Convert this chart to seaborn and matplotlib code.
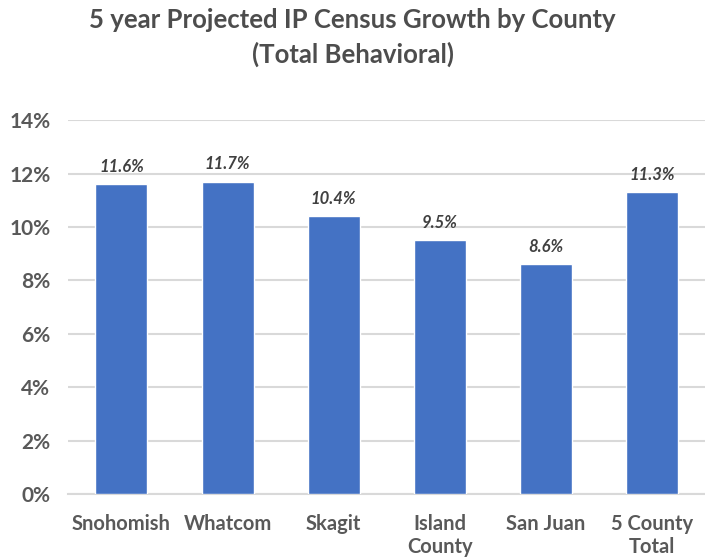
import pandas as pd
import seaborn as sns
import matplotlib.pyplot as plt
from matplotlib.ticker import PercentFormatter

# Data
counties = ["Snohomish", "Whatcom", "Skagit", "Island\nCounty", "San Juan", "5 County\nTotal"]
growth = [11.6, 11.7, 10.4, 9.5, 8.6, 11.3]
y_ticks = [0, 2, 4, 6, 8, 10, 12, 14]

BAR_COLOR = "#4472C4"
TEXT_COLOR = "#595959"
GRID_COLOR = "#D9D9D9"

df = pd.DataFrame({"county": counties, "growth": growth})

sns.set_theme(style="white")
plt.rcParams["font.family"] = ["Lato", "DejaVu Sans"]

fig = plt.figure(figsize=(7.05, 5.59), dpi=100)
ax = fig.add_axes([0.097, 0.116, 0.903, 0.669])

sns.barplot(data=df, x="county", y="growth", color=BAR_COLOR, width=0.49,
            saturation=1, ax=ax, zorder=3)

# Value labels above each bar
for i, v in enumerate(growth):
    ax.text(i, v + 0.35, f"{v:.1f}%", ha="center", va="bottom",
            fontsize=12, fontweight="bold", fontstyle="italic", color="#404040")

ax.set_ylim(0, 14)
ax.set_yticks(y_ticks)
ax.yaxis.set_major_formatter(PercentFormatter(decimals=0))
ax.grid(axis="y", color=GRID_COLOR, linewidth=1.5, zorder=0)
for side in ["top", "right", "left"]:
    ax.spines[side].set_visible(False)
ax.spines["bottom"].set_color(GRID_COLOR)
ax.spines["bottom"].set_linewidth(1.5)

ax.set_xlabel("")
ax.set_ylabel("")
ax.tick_params(axis="y", length=0, pad=13, labelsize=15, labelcolor=TEXT_COLOR)
ax.tick_params(axis="x", length=0, pad=14, labelsize=14.5, labelcolor=TEXT_COLOR)
for lbl in ax.get_xticklabels() + ax.get_yticklabels():
    lbl.set_fontweight("bold")

fig.suptitle("5 year Projected IP Census Growth by County\n(Total Behavioral)",
             x=0.5, y=0.985, fontsize=18.5, fontweight="bold", color="#4D4D4D",
             linespacing=1.45)

plt.savefig("out.png", dpi=100)
plt.close()
